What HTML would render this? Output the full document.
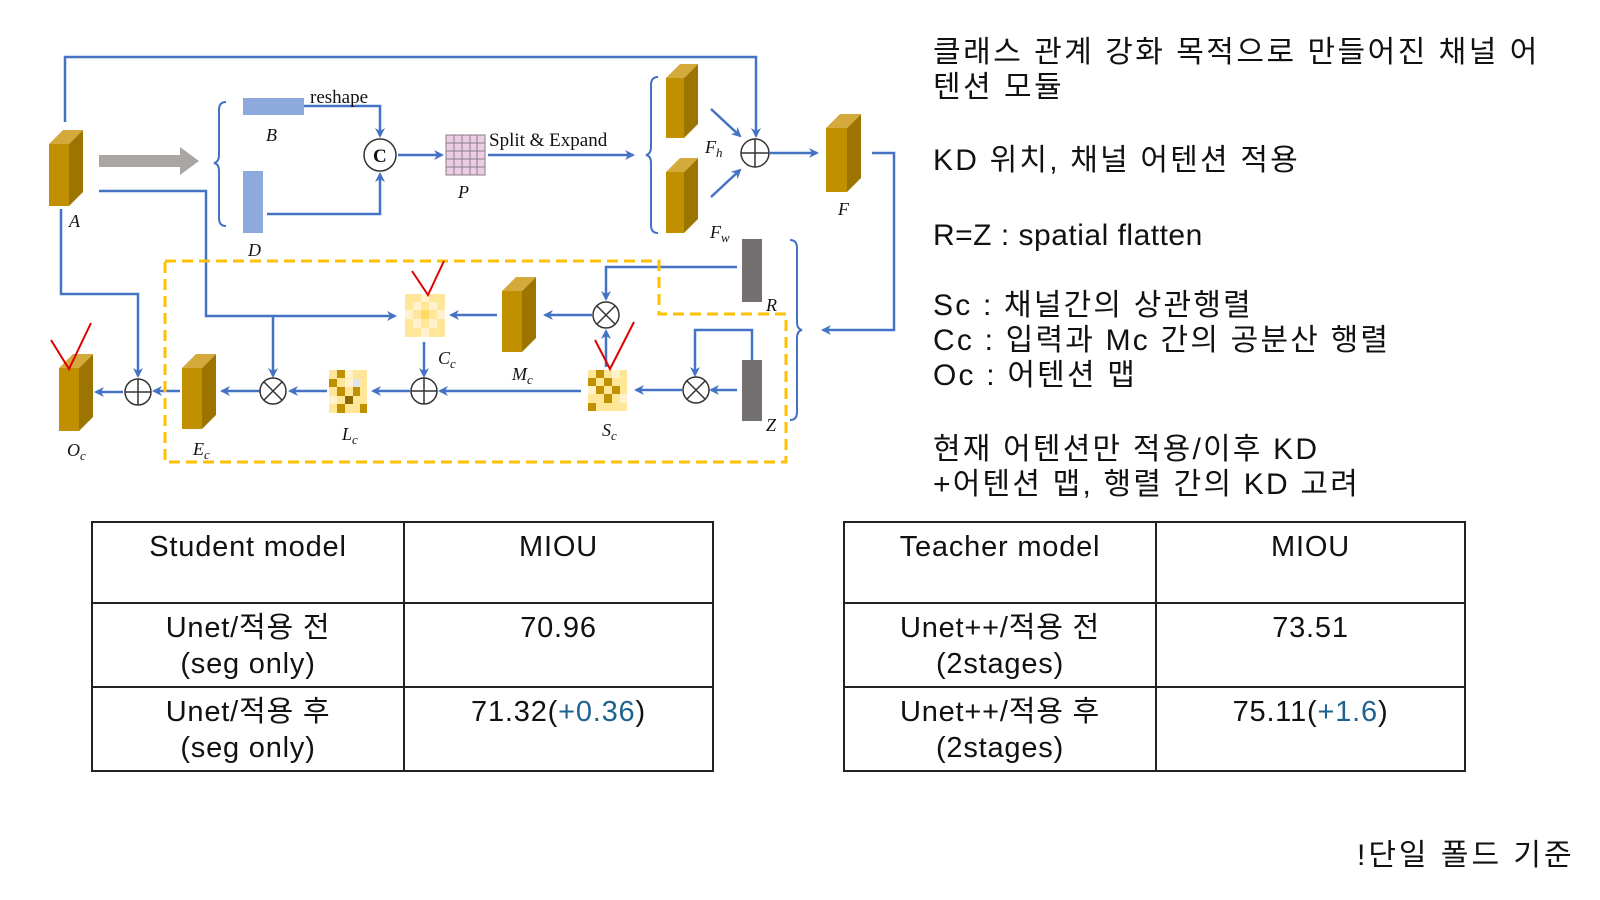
<!DOCTYPE html>
<html><head><meta charset="utf-8"><style>
body{margin:0;background:#fff;width:1600px;height:900px;overflow:hidden;position:relative;font-family:"Liberation Sans","Noto Sans CJK KR",sans-serif;}
.t{position:absolute;left:933px;font-size:30px;color:#111;white-space:nowrap;line-height:35px;letter-spacing:2.2px;}
table{position:absolute;border-collapse:collapse;font-size:29px;color:#111;letter-spacing:0.8px;}
td{border:2px solid #222;text-align:center;vertical-align:top;padding:0;line-height:36px;}
.b{color:#1F6391}
</style></head><body>
<svg width="1600" height="900" style="position:absolute;left:0;top:0">
<defs>
<marker id="ar" markerWidth="10" markerHeight="10" refX="8" refY="5" orient="auto" markerUnits="userSpaceOnUse">
<path d="M0,0 L10,5 L0,10 L3,5 Z" fill="#4472C4"/></marker>
</defs>
<g fill="none" stroke="#4472C4" stroke-width="2.5">
<polyline points="65,122 65,57 756,57 756,136" marker-end="url(#ar)"/>
<polyline points="304,106 380,106 380,136" marker-end="url(#ar)"/>
<polyline points="267,214 380,214 380,174" marker-end="url(#ar)"/>
<line x1="398" y1="155" x2="442" y2="155" marker-end="url(#ar)"/>
<line x1="488" y1="155" x2="633" y2="155" marker-end="url(#ar)"/>
<line x1="711" y1="109" x2="740" y2="136" marker-end="url(#ar)"/>
<line x1="711" y1="197" x2="740" y2="170" marker-end="url(#ar)"/>
<line x1="770" y1="153" x2="817" y2="153" marker-end="url(#ar)"/>
<polyline points="872,153 894,153 894,330 823,330" marker-end="url(#ar)"/>
<polyline points="737,267 606,267 606,299" marker-end="url(#ar)"/>
<line x1="592" y1="315" x2="545" y2="315" marker-end="url(#ar)"/>
<line x1="497" y1="315" x2="451" y2="315" marker-end="url(#ar)"/>
<polyline points="99,191 206,191 206,316 395,316" marker-end="url(#ar)"/>
<line x1="273" y1="316" x2="273" y2="376" marker-end="url(#ar)"/>
<line x1="424" y1="342" x2="424" y2="376" marker-end="url(#ar)"/>
<line x1="581" y1="391" x2="440" y2="391" marker-end="url(#ar)"/>
<line x1="606" y1="367" x2="606" y2="331" marker-end="url(#ar)"/>
<line x1="737" y1="390" x2="711" y2="390" marker-end="url(#ar)"/>
<polyline points="752,360 752,330 695,330 695,375" marker-end="url(#ar)"/>
<line x1="682" y1="390" x2="636" y2="390" marker-end="url(#ar)"/>
<line x1="410" y1="391" x2="373" y2="391" marker-end="url(#ar)"/>
<line x1="327" y1="391" x2="290" y2="391" marker-end="url(#ar)"/>
<line x1="260" y1="391" x2="222" y2="391" marker-end="url(#ar)"/>
<line x1="180" y1="391" x2="154" y2="391" marker-end="url(#ar)"/>
<polyline points="61,209 61,294 138,294 138,376" marker-end="url(#ar)"/>
<line x1="123" y1="392" x2="96" y2="392" marker-end="url(#ar)"/>
<path d="M226,102 Q219,102 219,110 L219,155 Q219,162 214,163 Q219,164 219,171 L219,218 Q219,226 226,226" stroke-width="2"/>
<path d="M658,77 Q651,77 651,85 L651,147 Q651,154 646,155 Q651,156 651,163 L651,225 Q651,233 658,233" stroke-width="2"/>
<path d="M790,240 Q797,240 797,248 L797,322 Q797,329 802,330 Q797,331 797,338 L797,412 Q797,420 790,420" stroke-width="2"/>
</g>
<polygon points="165,261 659,261 659,314 786,314 786,462 165,462" fill="none" stroke="#FFC000" stroke-width="3" stroke-dasharray="11,6"/>
<polygon points="99,155 180,155 180,147 199,161 180,175 180,167 99,167" fill="#A9A6A4"/>
<rect x="243" y="98" width="61" height="17" fill="#8EA9DB"/>
<rect x="243" y="171" width="20" height="62" fill="#8EA9DB"/>
<g>
<rect x="49" y="144" width="20" height="62" fill="#C09000"/><polygon points="69,144 83,130 83,192 69,206" fill="#9B7500"/><polygon points="49,144 63,130 83,130 69,144" fill="#D4AA3C"/>
<rect x="666" y="78" width="18" height="60" fill="#C09000"/><polygon points="684,78 698,64 698,124 684,138" fill="#9B7500"/><polygon points="666,78 680,64 698,64 684,78" fill="#D4AA3C"/>
<rect x="666" y="172" width="18" height="61" fill="#C09000"/><polygon points="684,172 698,158 698,219 684,233" fill="#9B7500"/><polygon points="666,172 680,158 698,158 684,172" fill="#D4AA3C"/>
<rect x="826" y="128" width="21" height="64" fill="#C09000"/><polygon points="847,128 861,114 861,178 847,192" fill="#9B7500"/><polygon points="826,128 840,114 861,114 847,128" fill="#D4AA3C"/>
<rect x="502" y="291" width="20" height="61" fill="#C09000"/><polygon points="522,291 536,277 536,338 522,352" fill="#9B7500"/><polygon points="502,291 516,277 536,277 522,291" fill="#D4AA3C"/>
<rect x="182" y="368" width="20" height="61" fill="#C09000"/><polygon points="202,368 216,354 216,415 202,429" fill="#9B7500"/><polygon points="182,368 196,354 216,354 202,368" fill="#D4AA3C"/>
<rect x="59" y="368" width="20" height="63" fill="#C09000"/><polygon points="79,368 93,354 93,417 79,431" fill="#9B7500"/><polygon points="59,368 73,354 93,354 79,368" fill="#D4AA3C"/>
</g>
<rect x="742" y="239" width="20" height="63" fill="#757070"/>
<rect x="742" y="360" width="20" height="61" fill="#757070"/>
<g stroke="#8a7f88" stroke-width="1">
<rect x="446" y="135" width="39" height="40" fill="#EBCDE6"/>
<path d="M454,135V175M462,135V175M470,135V175M477,135V175M446,143H485M446,151H485M446,159H485M446,167H485"/>
</g>
<g>
<rect x="405" y="294" width="40" height="43" fill="#FFE699"/>
<rect x="413" y="302" width="8" height="8" fill="#FFF2CC"/><rect x="429" y="302" width="8" height="8" fill="#FFF2CC"/>
<rect x="405" y="310" width="8" height="9" fill="#FFF2CC"/><rect x="421" y="310" width="8" height="9" fill="#FFD966"/><rect x="437" y="310" width="8" height="9" fill="#FFF2CC"/>
<rect x="413" y="319" width="8" height="9" fill="#FFF2CC"/><rect x="429" y="319" width="8" height="9" fill="#FFF2CC"/>
<rect x="421" y="294" width="8" height="8" fill="#FFF2CC"/><rect x="421" y="328" width="8" height="9" fill="#FFF2CC"/>
</g>
<g>
<rect x="329" y="370" width="38" height="43" fill="#FFE699"/>
<rect x="337" y="370" width="8" height="8" fill="#BF9000"/><rect x="329" y="379" width="8" height="8" fill="#BF9000"/><rect x="345" y="379" width="8" height="8" fill="#FFF2CC"/><rect x="353" y="379" width="7" height="8" fill="#DDE6F0"/>
<rect x="337" y="387" width="8" height="9" fill="#BF9000"/><rect x="353" y="387" width="7" height="9" fill="#BF9000"/><rect x="329" y="396" width="8" height="8" fill="#FFF2CC"/><rect x="345" y="396" width="8" height="8" fill="#8A6A00"/>
<rect x="337" y="404" width="8" height="9" fill="#BF9000"/><rect x="360" y="404" width="7" height="9" fill="#BF9000"/><rect x="345" y="370" width="8" height="8" fill="#FFF2CC"/>
</g>
<g>
<rect x="588" y="370" width="39" height="41" fill="#FFE699"/>
<rect x="596" y="370" width="8" height="8" fill="#BF9000"/><rect x="588" y="378" width="8" height="8" fill="#BF9000"/><rect x="604" y="378" width="8" height="8" fill="#BF9000"/><rect x="612" y="370" width="8" height="8" fill="#FFF2CC"/>
<rect x="596" y="386" width="8" height="8" fill="#BF9000"/><rect x="612" y="386" width="8" height="8" fill="#BF9000"/><rect x="588" y="386" width="8" height="8" fill="#FFF2CC"/>
<rect x="604" y="394" width="8" height="9" fill="#BF9000"/><rect x="588" y="403" width="8" height="8" fill="#BF9000"/><rect x="620" y="394" width="7" height="9" fill="#FFF2CC"/>
</g>
<g fill="#fff" stroke="#333" stroke-width="1.5">
<circle cx="380" cy="155" r="16"/>
<circle cx="755" cy="153" r="14"/><path d="M741,153H769M755,139V167" fill="none"/>
<circle cx="606" cy="315" r="13"/><path d="M597,306L615,324M615,306L597,324" fill="none"/>
<circle cx="424" cy="391" r="13"/><path d="M411,391H437M424,378V404" fill="none"/>
<circle cx="696" cy="390" r="13"/><path d="M687,381L705,399M705,381L687,399" fill="none"/>
<circle cx="273" cy="391" r="13"/><path d="M264,382L282,400M282,382L264,400" fill="none"/>
<circle cx="138" cy="392" r="13"/><path d="M125,392H151M138,379V405" fill="none"/>
</g>
<g font-family="Liberation Serif, serif" font-style="italic" font-size="18" fill="#111">
<text x="69" y="227">A</text><text x="266" y="141">B</text><text x="248" y="256">D</text>
<text x="458" y="198">P</text><text x="705" y="153">F<tspan font-size="13" dy="4">h</tspan></text>
<text x="710" y="238">F<tspan font-size="13" dy="4">w</tspan></text>
<text x="838" y="215">F</text><text x="766" y="311">R</text><text x="766" y="431">Z</text>
<text x="438" y="364">C<tspan font-size="13" dy="4">c</tspan></text>
<text x="512" y="380">M<tspan font-size="13" dy="4">c</tspan></text>
<text x="602" y="436">S<tspan font-size="13" dy="4">c</tspan></text>
<text x="342" y="440">L<tspan font-size="13" dy="4">c</tspan></text>
<text x="193" y="455">E<tspan font-size="13" dy="4">c</tspan></text>
<text x="67" y="456">O<tspan font-size="13" dy="4">c</tspan></text>
</g>
<g font-family="Liberation Serif, serif" font-size="19" fill="#111">
<text x="310" y="103">reshape</text>
<text x="489" y="146">Split &amp; Expand</text>
<text x="373" y="162" font-weight="bold" font-size="19">C</text>
</g>
<g fill="none" stroke="#E00000" stroke-width="2">
<polyline points="51,340 69,369 91,323"/>
<polyline points="412,271 428,295 444,261"/>
<polyline points="595,340 610,369 634,322"/>
</g>
</svg>
<div class="t" style="top:35px;letter-spacing:2.5px">클래스 관계 강화 목적으로 만들어진 채널 어<br>텐션 모듈</div>
<div class="t" style="top:143px">KD 위치, 채널 어텐션 적용</div>
<div class="t" style="top:218px;letter-spacing:0.5px">R=Z : spatial flatten</div>
<div class="t" style="top:288px">Sc : 채널간의 상관행렬<br>Cc : 입력과 Mc 간의 공분산 행렬<br>Oc : 어텐션 맵</div>
<div class="t" style="top:432px">현재 어텐션만 적용/이후 KD<br>+어텐션 맵, 행렬 간의 KD 고려</div>
<table style="left:91px;top:521px;width:623px">
<tr style="height:81px"><td style="width:310px;padding-top:6px">Student model</td><td style="padding-top:6px">MIOU</td></tr>
<tr style="height:84px"><td style="padding-top:6px">Unet/적용 전<br>(seg only)</td><td style="padding-top:6px">70.96</td></tr>
<tr style="height:84px"><td style="padding-top:6px">Unet/적용 후<br>(seg only)</td><td style="padding-top:6px">71.32(<span class="b">+0.36</span>)</td></tr>
</table>
<table style="left:843px;top:521px;width:623px">
<tr style="height:81px"><td style="width:310px;padding-top:6px">Teacher model</td><td style="padding-top:6px">MIOU</td></tr>
<tr style="height:84px"><td style="padding-top:6px">Unet++/적용 전<br>(2stages)</td><td style="padding-top:6px">73.51</td></tr>
<tr style="height:84px"><td style="padding-top:6px">Unet++/적용 후<br>(2stages)</td><td style="padding-top:6px">75.11(<span class="b">+1.6</span>)</td></tr>
</table>
<div class="t" style="left:1357px;top:838px;letter-spacing:3px">!단일 폴드 기준</div>
</body></html>
